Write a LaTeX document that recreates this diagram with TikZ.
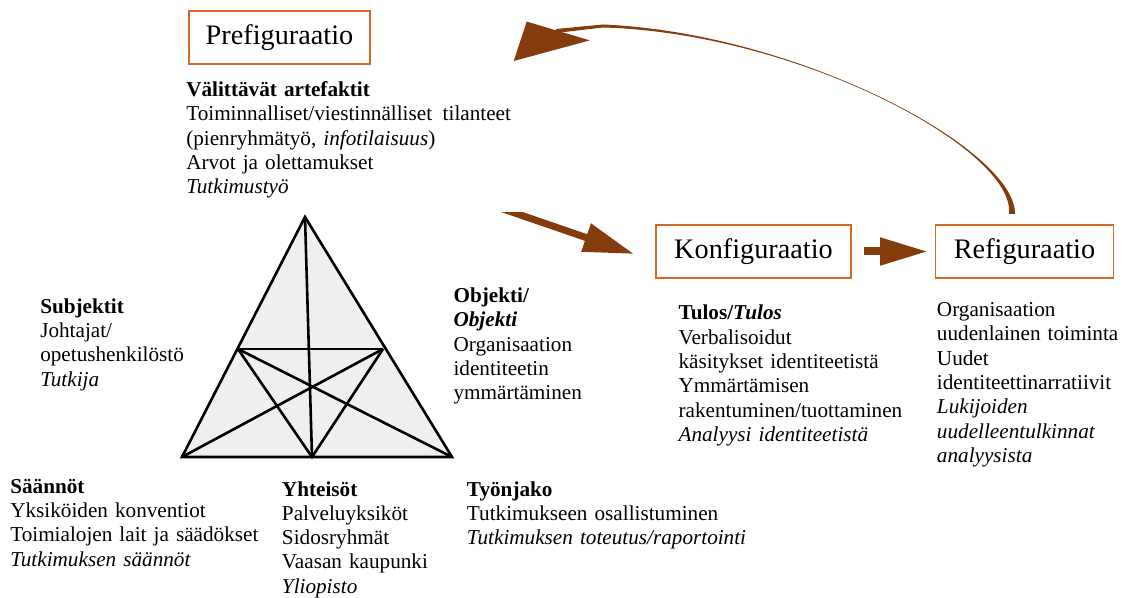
\documentclass[tikz,border=0pt]{standalone}
\usepackage{fontspec}
\setmainfont{Liberation Serif}
\usetikzlibrary{arrows.meta}
\definecolor{boxline}{HTML}{D46A24}
\definecolor{arrowbrown}{HTML}{843C0C}
\definecolor{trifill}{HTML}{EFEFEF}
\begin{document}
\begin{tikzpicture}[x=0.75pt,y=-0.75pt,
  stage/.style={draw=boxline, line width=1.2pt, inner sep=0pt,
    minimum height=39.4pt, minimum width=#1,
    font=\fontsize{21.2pt}{25pt}\selectfont},
  body/.style={anchor=base west, inner sep=0pt, align=left, text width=#1,
    font=\fontsize{15.9pt}{18.2pt}\selectfont},
  tri/.style={draw=black, fill=trifill, line width=1.95pt},
  triline/.style={draw=black, line width=1.95pt},
  blockarrow/.style={draw=arrowbrown, line width=6pt,
    -{Triangle[length=36pt,width=19.5pt]}}
]
\path[fill=white] (0,0) rectangle (1124,598);
\useasboundingbox (0,0) rectangle (1124,598);

% stage boxes
\node[stage=135.75pt] (pre) at (279.5,37.5) {Prefiguraatio};
\node[stage=146.25pt] (konf) at (753.5,251.5) {Konfiguraatio};
\node[stage=133.5pt] (refig) at (1024.5,251.5) {Refiguraatio};

% activity triangle
\coordinate (apex) at (305,217);
\coordinate (bl) at (182,457);
\coordinate (br) at (452,457);
\coordinate (lm) at (238,349);
\coordinate (rm) at (383,349);
\coordinate (bm) at (312,457);
\filldraw[tri] (apex) -- (bl) -- (br) -- cycle;
\draw[triline] (lm) -- (rm);
\draw[triline] (apex) -- (bm);
\draw[triline] (lm) -- (bm) -- (rm);
\draw[triline] (lm) -- (br);
\draw[triline] (rm) -- (bl);

% text blocks
\node[body=300pt] (artefakt) at (186,96.5) {\textbf{Välittävät artefaktit}\\
  Toiminnalliset/viestinnälliset\hspace{0.5em}tilanteet\\
  (pienryhmätyö, \textit{infotilaisuus})\\
  Arvot ja olettamukset\\
  \textit{Tutkimustyö}};
\node[body=150pt] (subj) at (40,313.3) {\textbf{Subjektit}\\
  Johtajat/\\
  opetushenkilöstö\\
  \textit{Tutkija}};
\node[body=130pt] (obj) at (453.3,302.7) {\textbf{Objekti/}\\
  \textbf{\textit{Objekti}}\\
  Organisaation\\
  identiteetin\\
  ymmärtäminen};
\node[body=200pt] (tulos) at (678.3,320) {\textbf{Tulos/\textit{Tulos}}\\
  Verbalisoidut\\
  käsitykset identiteetistä\\
  Ymmärtämisen\\
  rakentuminen/tuottaminen\\
  \textit{Analyysi identiteetistä}};
\node[body=150pt] (reftext) at (936.7,316.7) {Organisaation\\
  uudenlainen toiminta\\
  Uudet\\
  identiteettinarratiivit\\
  \textit{Lukijoiden}\\
  \textit{uudelleentulkinnat}\\
  \textit{analyysista}};
\node[body=200pt] (saannot) at (10,493.3) {\textbf{Säännöt}\\
  Yksiköiden konventiot\\
  Toimialojen lait ja säädökset\\
  \textit{Tutkimuksen säännöt}};
\node[body=140pt] (yhteisot) at (281.7,496) {\textbf{Yhteisöt}\\
  Palveluyksiköt\\
  Sidosryhmät\\
  Vaasan kaupunki\\
  \textit{Yliopisto}};
\node[body=240pt] (tyonjako) at (466.7,496) {\textbf{Työnjako}\\
  Tutkimukseen osallistuminen\\
  \textit{Tutkimuksen toteutus/raportointi}};

% arrow into the configuration stage
\coordinate (a1tail) at (501.6,208.5);
\coordinate (a1tip) at (634,254);
\begin{scope}
  \clip (0,212.7) rectangle (1124,598);
  \draw[blockarrow, line width=5.25pt,
    -{Triangle[length=38pt,width=21pt]}] (a1tail) -- (a1tip);
\end{scope}

% configuration -> refiguration
\draw[blockarrow, shorten <=9pt, shorten >=5pt] (konf.east) -- (refig.west);

% tapered return arc from refiguration back to prefiguration
\coordinate (c1) at (1016,150);
\coordinate (c2) at (800,33);
\coordinate (h1) at (526.7,21.6);
\coordinate (h2) at (589.8,40.4);
\coordinate (htip) at (513.7,61);
\fill[arrowbrown] (1015,214) .. controls (c1) and (c2) .. (603,24.5)
  -- (556,29) -- (556,33) -- (603,27.5)
  .. controls (c2) and (c1) .. (1009,214) -- cycle;
\fill[arrowbrown] (h1) -- (h2) -- (htip) -- cycle;
\end{tikzpicture}
\end{document}
